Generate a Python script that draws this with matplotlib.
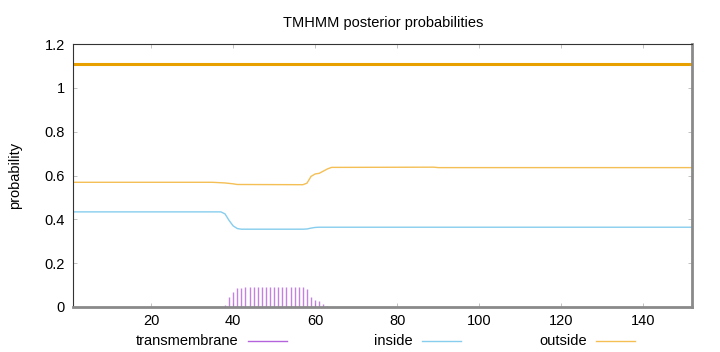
"""
TMHMM posterior probabilities, redrawn in matplotlib.
"""
import matplotlib
matplotlib.use("Agg")
import matplotlib.pyplot as plt
from matplotlib.lines import Line2D

plt.rcParams['font.family'] = ['Liberation Sans', 'DejaVu Sans']

##### data #####
seq_len = 152
region_level = 1.11   # thick "outside" region bar above the curves

# inside probability (points where the curve bends)
inside_pos = [1, 37, 38, 39, 40, 41, 42, 57, 58, 59, 60, 61, 152]
inside_prob = [0.434, 0.434, 0.425, 0.395, 0.370, 0.358, 0.355, 0.355, 0.356, 0.360, 0.363, 0.364, 0.364]

# outside probability
outside_pos = [1, 35, 38, 40, 41, 57, 58, 59, 60, 61, 62, 63, 64, 89, 90, 152]
outside_prob = [0.569, 0.569, 0.566, 0.562, 0.559, 0.558, 0.565, 0.596, 0.607, 0.610, 0.620, 0.630, 0.637,
                0.638, 0.636, 0.636]

# transmembrane probability, one impulse per residue
tm_pos = [36, 37, 38, 39, 40, 41, 42, 43, 44, 45, 46, 47, 48, 49, 50, 51, 52, 53, 54, 55, 56, 57,
          58, 59, 60, 61, 62, 63]
tm_prob = [0.001, 0.002, 0.009, 0.046, 0.070, 0.085, 0.088, 0.090, 0.090, 0.090, 0.090, 0.090, 0.090,
           0.090, 0.090, 0.090, 0.090, 0.090, 0.090, 0.090, 0.090, 0.090, 0.083, 0.046, 0.034, 0.026,
           0.012, 0.003]

x_ticks = [20, 40, 60, 80, 100, 120, 140]
y_ticks = [0, 0.2, 0.4, 0.6, 0.8, 1.0, 1.2]
y_tick_labels = ["0", "0.2", "0.4", "0.6", "0.8", "1", "1.2"]

c_tm = '#b463dc'
c_inside = '#86cdee'
c_outside = '#f4bf55'
c_region = '#e8a000'
c_frame = '#8a8a8a'

##### figure #####
W, H = 720, 352
fig = plt.figure(figsize=(W / 100, H / 100), dpi=100)
ax = fig.add_axes([73.3 / W, 1 - 307 / H, (692.3 - 73.3) / W, (307 - 44) / H])

ax.vlines(tm_pos, 0, tm_prob, colors=c_tm, linewidth=1.0, alpha=0.8)
ax.plot(inside_pos, inside_prob, color=c_inside, linewidth=1.0)
ax.plot(outside_pos, outside_prob, color=c_outside, linewidth=1.0)
ax.plot([1, seq_len], [region_level, region_level], color=c_region, linewidth=2.2, solid_capstyle='butt')

ax.set_xlim(1, seq_len)
ax.set_ylim(0, 1.2)
ax.set_xticks(x_ticks)
ax.set_yticks(y_ticks)
ax.set_yticklabels(y_tick_labels)
ax.tick_params(direction='in', length=3, width=0.5, color='#aaaaaa', labelsize=10.5,
               top=True, right=True, pad=6)
ax.tick_params(axis='x', pad=5)

for side in ['left', 'top']:
    ax.spines[side].set_color('#333333')
    ax.spines[side].set_linewidth(0.8)
for side in ['bottom', 'right']:
    ax.spines[side].set_color(c_frame)
    ax.spines[side].set_linewidth(2.0)

fig.text(383 / W, 1 - 22.5 / H, "TMHMM posterior probabilities", ha='center', va='center', fontsize=10.5)
fig.text(15 / W, 1 - 175 / H, "probability", ha='center', va='center', rotation=90, fontsize=10.5)

##### legend under the axis, gnuplot style: text then sample #####
legend_y = 1 - 341 / H
entries = [("transmembrane", 238, 248, 287, c_tm),
           ("inside", 413, 422, 461, c_inside),
           ("outside", 587, 596, 635, c_outside)]
for label, text_right, x0, x1, col in entries:
    fig.text(text_right / W, legend_y, label, ha='right', va='center', fontsize=10.5)
    fig.add_artist(Line2D([x0 / W, x1 / W], [legend_y, legend_y], color=col, linewidth=1.0,
                          transform=fig.transFigure))

fig.savefig("out.png", dpi=100)
